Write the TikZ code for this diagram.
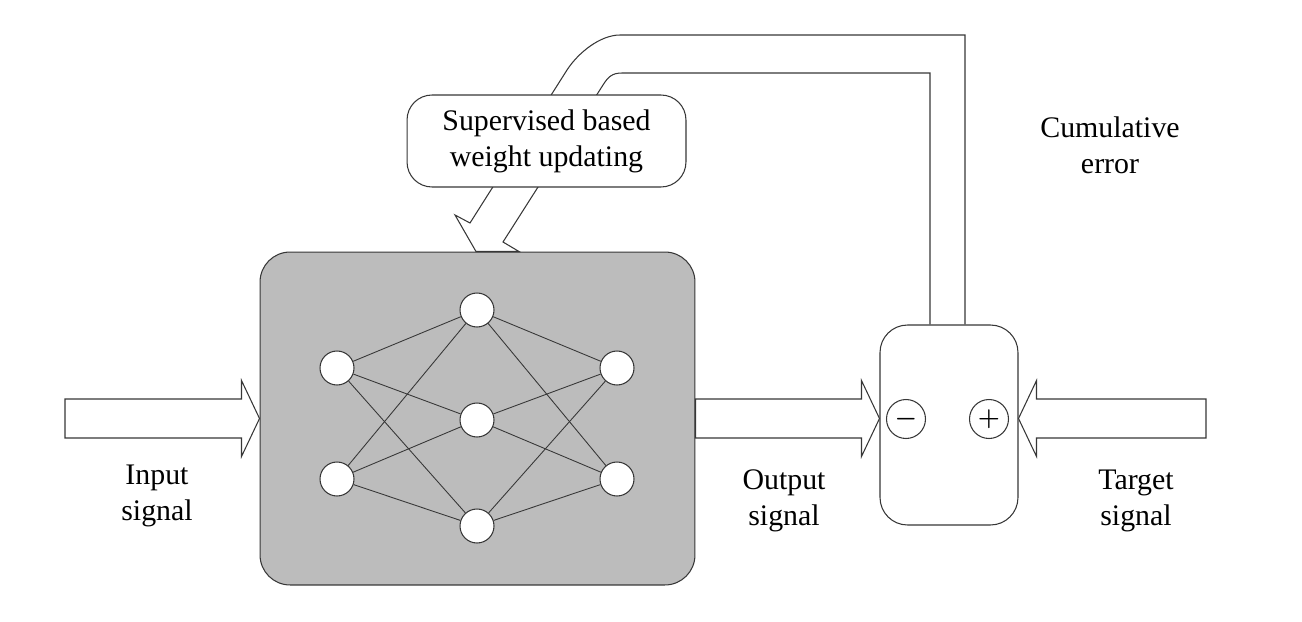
\documentclass[tikz,border=0pt]{standalone}
\usepackage{fontspec}
\setmainfont{Liberation Serif}
\usetikzlibrary{calc}
\definecolor{netgray}{RGB}{188,188,188}
\definecolor{inkgray}{RGB}{55,55,55}

\begin{document}
\begin{tikzpicture}[x=0.02cm,y=-0.02cm,
    every node/.style={font=\fontsize{17}{20.4}\selectfont},
    wire/.style={draw=inkgray,line width=0.6pt},
    fatarrow/.style={wire,fill=white,line join=miter},
    netbox/.style={wire,fill=netgray,rounded corners=0.6cm,minimum width=8.7cm,minimum height=6.66cm},
    cmpbox/.style={wire,fill=white,rounded corners=0.55cm,minimum width=2.76cm,minimum height=4cm},
    neuron/.style={wire,circle,fill=white,inner sep=0pt,minimum size=0.68cm},
    signnode/.style={wire,circle,fill=white,inner sep=0pt,minimum size=0.78cm,font=\Large\boldmath},
    balloon/.style={wire,fill=white,rounded corners=0.5cm,align=center,minimum width=5.58cm,minimum height=1.84cm},
    sigtext/.style={align=center,anchor=base}]
  \useasboundingbox (0,0) rectangle (1302,622);

  % network and comparator
  \node[netbox] (nn) at (477.5,418.5) {};
  \node[cmpbox] (comp) at (949,425) {};
  \node[signnode] (minus) at (906,419) {$-$};
  \node[signnode] (plus) at (989,419) {$+$};

  \def \Neurons{
    i1/337/368,
    i2/337/479,
    h1/477/310,
    h2/477/420,
    h3/477/526,
    o1/617/368,
    o2/617/479}
  \def \Links{
    i1/h1, i1/h2, i1/h3,
    i2/h1, i2/h2, i2/h3,
    h1/o1, h1/o2,
    h2/o1, h2/o2,
    h3/o1, h3/o2}
  \foreach \id / \x / \y in \Neurons{
    \node[neuron] (\id) at (\x, \y) {};
  }
  \foreach \a / \b in \Links{
    \path[wire,line width=0.5pt] (\a) -- (\b);
  }

  % signal arrows
  \coordinate (intail) at (65,418.5);
  \coordinate (tgttail) at (1206,418.5);
  \coordinate (outtip) at (comp.west |- nn.east);
  \coordinate (tgttip) at (comp.east |- nn.east);
  \def \Arrows{
    intail/nn.west/1,
    nn.east/outtip/1,
    tgttail/tgttip/-1}
  \foreach \t / \h / \d in \Arrows{
    \draw[fatarrow] ($(\t)+(0,-19.5)$) -- ($(\h)+(-18*\d,-19.5)$)
      -- ($(\h)+(-18*\d,-38)$) -- (\h) -- ($(\h)+(-18*\d,38)$)
      -- ($(\h)+(-18*\d,19.5)$) -- ($(\t)+(0,19.5)$) -- cycle;
  }

  % error feedback
  \coordinate (fbout) at ($(comp.north)+(16,0)$);
  \coordinate (fbin) at ($(comp.north)+(-19,0)$);
  \draw[wire,line join=miter] (fbout) -- (fbout |- 0,35) -- (620,35)
    .. controls (600,35) and (578,53) .. (567,70) -- (470,223) -- (455,215)
    -- (476,0 |- nn.north) -- (519,0 |- nn.north) -- (503,242) -- (603,85)
    .. controls (608,77) and (612,73) .. (622,73) -- (fbin |- 0,73) -- (fbin);
  \node[balloon] (upd) at (546.5,141) {Supervised based\\weight updating};

  % texts
  \node[sigtext] (inlbl) at (157,520) {Input\\signal};
  \node[sigtext] (outlbl) at (784,525) {Output\\signal};
  \node[sigtext] (tgtlbl) at (1136,525) {Target\\signal};
  \node[sigtext] (errlbl) at (1110,173) {Cumulative\\error};
\end{tikzpicture}
\end{document}
